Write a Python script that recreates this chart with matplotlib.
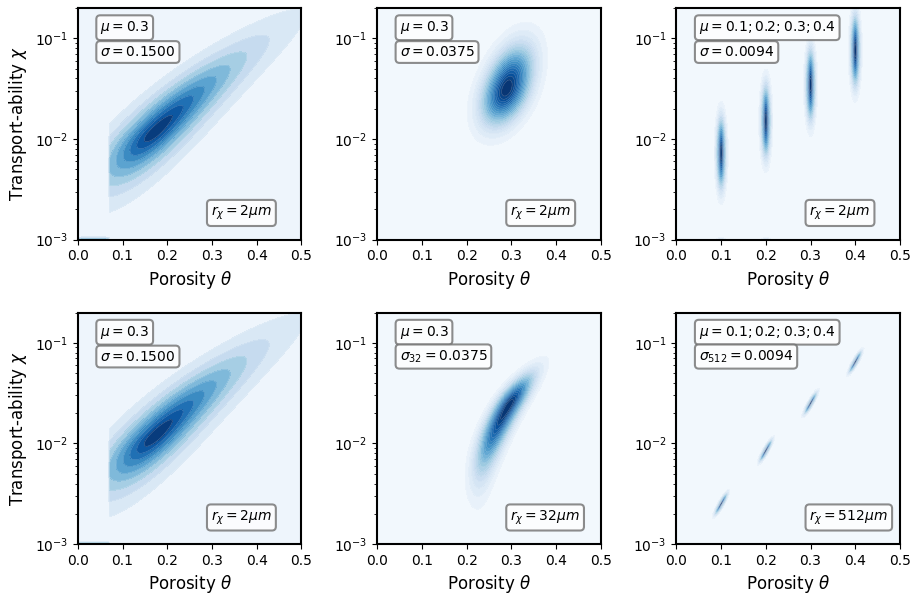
import numpy as np
import matplotlib.pyplot as plt

# panel order: top row left->right, then bottom row left->right
MU_TEXT = [r'$\mu = 0.3$', r'$\mu = 0.3$', r'$\mu = 0.1; 0.2; 0.3; 0.4$',
           r'$\mu = 0.3$', r'$\mu = 0.3$', r'$\mu = 0.1; 0.2; 0.3; 0.4$']
SIGMA_TEXT = [r'$\sigma = 0.1500$', r'$\sigma = 0.0375$', r'$\sigma = 0.0094$',
              r'$\sigma = 0.1500$', r'$\sigma_{32} = 0.0375$', r'$\sigma_{512} = 0.0094$']
R_TEXT = [r'$r_\chi = 2\mu m$', r'$r_\chi = 2\mu m$', r'$r_\chi = 2\mu m$',
          r'$r_\chi = 2\mu m$', r'$r_\chi = 32\mu m$', r'$r_\chi = 512\mu m$']
N_LEVELS = [10, 20, 20, 10, 20, 20]
THETA_CUT = [0.07, 0.0, 0.0, 0.07, 0.0, 0.0]

# density blobs, one list per panel:
# centre (theta, log10 chi), theta half-width, log chi spread above / below,
# ridge slope and bend (dtheta per log chi), peakedness, weight
C_THETA = [[0.175, 0.035],
           [0.29],
           [0.10, 0.20, 0.30, 0.40, 0.10, 0.20],
           [0.175, 0.035],
           [0.294],
           [0.10, 0.20, 0.30, 0.40]]
C_LOGCHI = [[-1.92, -3.0],
            [-1.50],
            [-2.14, -1.82, -1.46, -1.12, -3.0, -3.0],
            [-1.92, -3.0],
            [-1.625],
            [-2.60, -2.07, -1.60, -1.19]]
C_WIDTH = [[0.048, 0.05],
           [0.033],
           [0.0065, 0.0065, 0.0065, 0.0065, 0.006, 0.006],
           [0.048, 0.05],
           [0.020],
           [0.0035, 0.0035, 0.0035, 0.0035]]
C_SD_UP = [[0.49, 0.015],
           [0.27],
           [0.21, 0.21, 0.21, 0.21, 0.012, 0.012],
           [0.49, 0.015],
           [0.20],
           [0.06, 0.06, 0.06, 0.06]]
C_SD_DOWN = [[0.34, 0.015],
             [0.23],
             [0.21, 0.21, 0.21, 0.21, 0.012, 0.012],
             [0.34, 0.015],
             [0.42],
             [0.06, 0.06, 0.06, 0.06]]
C_SLOPE = [[0.205, 0.0],
           [0.065],
           [0.0, 0.0, 0.0, 0.0, 0.0, 0.0],
           [0.205, 0.0],
           [0.13],
           [0.12, 0.12, 0.12, 0.12]]
C_BEND = [[0.047, 0.0],
          [0.0],
          [0.0, 0.0, 0.0, 0.0, 0.0, 0.0],
          [0.047, 0.0],
          [0.06],
          [0.0, 0.0, 0.0, 0.0]]
C_PEAK = [[0.75, 1.0],
          [1.0],
          [1.0, 1.0, 1.0, 1.0, 1.0, 1.0],
          [0.75, 1.0],
          [1.0],
          [1.0, 1.0, 1.0, 1.0]]
C_WEIGHT = [[1.0, 0.5],
            [1.0],
            [1.0, 1.0, 1.0, 1.0, 0.2, 0.2],
            [1.0, 0.5],
            [1.0],
            [1.0, 1.0, 1.0, 1.0]]


def blob(T, L, i, k):
    d = L - C_LOGCHI[i][k]
    ridge = C_THETA[i][k] + C_SLOPE[i][k] * d + C_BEND[i][k] * d**2
    dt = (T - ridge) / C_WIDTH[i][k]
    dl = d / np.where(d > 0, C_SD_UP[i][k], C_SD_DOWN[i][k])
    q = 0.5 * (dt**2 + dl**2)
    return C_WEIGHT[i][k] * np.exp(-q**C_PEAK[i][k])


theta = np.linspace(0, 0.5, 500)
logchi = np.linspace(-3, np.log10(0.2), 500)
T, L = np.meshgrid(theta, logchi)

fig, axes = plt.subplots(2, 3, figsize=(9.16, 5.94), dpi=100)
fig.subplots_adjust(left=0.085, right=0.9825, bottom=0.084, top=0.9865,
                    wspace=0.339, hspace=0.315)

box = dict(boxstyle='round,pad=0.28', facecolor='white', alpha=0.8,
           edgecolor='#707070', linewidth=1.5)

for i, ax in enumerate(axes.flat):
    Z = np.zeros_like(T)
    for k in range(len(C_THETA[i])):
        g = blob(T, L, i, k)
        if C_LOGCHI[i][k] > -2.99:
            g[T < THETA_CUT[i]] = 0
        elif THETA_CUT[i] > 0:
            g[T > THETA_CUT[i]] = 0
        Z += g
    Z = Z / Z.max()
    levels = np.linspace(-1e-6, 1.0, N_LEVELS[i] + 1)
    ax.contourf(theta, 10**logchi, Z, levels=levels, cmap='Blues')
    ax.contour(theta, 10**logchi, Z, levels=levels[1:-1], colors='white',
               linewidths=0.3, alpha=0.35)
    ax.set_yscale('log')
    ax.set_xlim(0, 0.5)
    ax.set_ylim(1e-3, 0.2)
    ax.set_xticks([0.0, 0.1, 0.2, 0.3, 0.4, 0.5])
    ax.tick_params(labelsize=10)
    for s in ax.spines.values():
        s.set_linewidth(1.5)
    ax.set_xlabel(r'Porosity $\theta$', fontsize=12)
    if i % 3 == 0:
        ax.set_ylabel(r'Transport-ability $\chi$', fontsize=12)

    ax.text(0.1, 0.915, MU_TEXT[i], transform=ax.transAxes, fontsize=10,
            ha='left', va='center', bbox=box)
    ax.text(0.1, 0.81, SIGMA_TEXT[i], transform=ax.transAxes, fontsize=10,
            ha='left', va='center', bbox=box)
    ax.text(0.595, 0.115, R_TEXT[i], transform=ax.transAxes, fontsize=10,
            ha='left', va='center', bbox=box)

plt.savefig('out.png', dpi=100)
